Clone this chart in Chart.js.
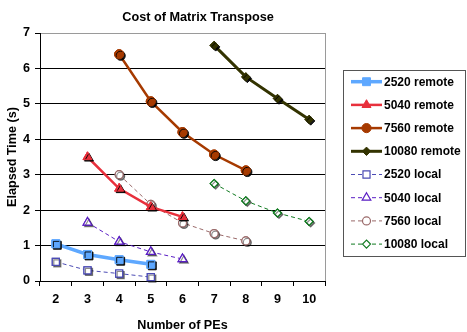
<!DOCTYPE html>
<html><head><meta charset="utf-8">
<script src="https://cdn.jsdelivr.net/npm/chart.js@4"></script>
<style>html,body{margin:0;padding:0;background:#fff}canvas{display:block}</style>
</head><body>
<canvas id="c" width="467" height="332"></canvas>
<script>
// Number of PEs on the x axis
const categories = ['2', '3', '4', '5', '6', '7', '8', '9', '10'];

// Elapsed time (s) per matrix size, remote and local transpose
const remote2520  = [1.05, 0.75, 0.60, 0.47, null, null, null, null, null];
const remote5040  = [null, 3.50, 2.61, 2.09, 1.81, null, null, null, null];
const remote7560  = [null, null, 6.40, 5.07, 4.20, 3.57, 3.12, null, null];
const remote10080 = [null, null, null, null, null, 6.65, 5.76, 5.15, 4.56];
const local2520   = [0.54, 0.30, 0.21, 0.11, null, null, null, null, null];
const local5040   = [null, 1.65, 1.11, 0.82, 0.62, null, null, null, null];
const local7560   = [null, null, 3.00, 2.16, 1.64, 1.34, 1.13, null, null];
const local10080  = [null, null, null, null, null, 2.75, 2.26, 1.92, 1.68];

const yTicks = [0, 1, 2, 3, 4, 5, 6, 7];

const FONT = "'Liberation Sans', Arial, sans-serif";

function remote(label, data, color, style, radius, width) {
  return {
    label, data,
    borderColor: color, backgroundColor: color,
    borderWidth: width,
    pointStyle: style, pointRadius: radius, pointHoverRadius: radius,
    pointBackgroundColor: color, pointBorderColor: color, pointBorderWidth: 1,
    shadowColor: 'rgba(0,0,0,0.9)',
    tension: 0, fill: false
  };
}
function local(label, data, color, style, radius) {
  return {
    label, data,
    borderColor: color, backgroundColor: '#fff',
    borderWidth: 1, borderDash: [4, 3],
    pointStyle: style, pointRadius: radius, pointHoverRadius: radius,
    pointBackgroundColor: '#fff', pointBorderColor: color, pointBorderWidth: 1.2,
    shadowColor: 'rgba(0,0,0,0.45)',
    tension: 0, fill: false
  };
}

const datasets = [
  remote('2520 remote',  remote2520,  '#5ea8ff', 'rect',     5.6, 3.5),
  remote('5040 remote',  remote5040,  '#e8303c', 'triangle', 5.2, 2.5),
  remote('7560 remote',  remote7560,  '#a63a00', 'circle',   4.6, 2.5),
  remote('10080 remote', remote10080, '#333300', 'rectRot',  4.2, 3),
  local('2520 local',  local2520,  '#4b4bb4', 'rect',     5),
  local('5040 local',  local5040,  '#5a1ec4', 'triangle', 5),
  local('7560 local',  local7560,  '#9a6a6a', 'circle',   4),
  local('10080 local', local10080, '#107a20', 'rectRot',  4)
];

// Markers get a small dark drop shadow, lines do not
const markerShadow = {
  id: 'markerShadow',
  afterDatasetDraw(chart, args) {
    const meta = args.meta, ds = chart.data.datasets[args.index];
    const ctx = chart.ctx;
    ctx.save();
    ctx.shadowColor = ds.shadowColor;
    ctx.shadowOffsetX = 1.5;
    ctx.shadowOffsetY = 1.5;
    ctx.shadowBlur = 0;
    meta.data.forEach(p => p.draw(ctx, chart.chartArea));
    ctx.restore();
  }
};

// Gray frame on the top and right of the plot area
const plotFrame = {
  id: 'plotFrame',
  beforeDatasetsDraw(chart) {
    const {ctx, chartArea: a} = chart;
    ctx.save();
    ctx.strokeStyle = '#9a9a9a';
    ctx.lineWidth = 1;
    ctx.beginPath();
    ctx.moveTo(Math.round(a.right) + 0.5, a.top);
    ctx.lineTo(Math.round(a.right) + 0.5, a.bottom);
    ctx.stroke();
    ctx.restore();
  }
};

// Title and boxed legend on the right
const titleAndLegend = {
  id: 'titleAndLegend',
  afterDraw(chart) {
    const ctx = chart.ctx;
    ctx.save();
    ctx.fillStyle = '#000';
    ctx.font = 'bold 12.7px ' + FONT;
    ctx.textAlign = 'center';
    ctx.textBaseline = 'middle';
    ctx.fillText('Cost of Matrix Transpose', 198, 17);

    ctx.strokeStyle = '#555';
    ctx.lineWidth = 1;
    ctx.strokeRect(343.5, 70.5, 122, 186);

    ctx.font = 'bold 12px ' + FONT;
    ctx.textAlign = 'left';
    chart.data.datasets.forEach((ds, i) => {
      const y = 81.7 + i * 23.2;
      ctx.strokeStyle = ds.borderColor;
      ctx.lineWidth = ds.borderWidth;
      ctx.setLineDash(ds.borderDash || []);
      ctx.beginPath();
      ctx.moveTo(351, y);
      ctx.lineTo(382, y);
      ctx.stroke();
      ctx.setLineDash([]);
      ctx.fillStyle = ds.pointBackgroundColor;
      ctx.strokeStyle = ds.pointBorderColor;
      ctx.lineWidth = ds.pointBorderWidth;
      Chart.helpers.drawPoint(ctx, {
        pointStyle: ds.pointStyle, rotation: 0,
        radius: ds.pointRadius, borderWidth: ds.pointBorderWidth
      }, 366.5, y);
      ctx.fillStyle = '#000';
      ctx.fillText(ds.label, 384, y + 0.5);
    });
    ctx.restore();
  }
};

new Chart(document.getElementById('c'), {
  type: 'line',
  data: { labels: categories, datasets },
  plugins: [plotFrame, markerShadow, titleAndLegend],
  options: {
    responsive: false,
    animation: false,
    events: [],
    layout: { padding: { left: 0, top: 33, right: 142, bottom: 0 } },
    plugins: { legend: { display: false }, title: { display: false }, tooltip: { enabled: false } },
    scales: {
      x: {
        type: 'category',
        offset: true,
        afterFit(scale) { scale.height = 51; },
        grid: { offset: true, drawOnChartArea: false, drawTicks: true, tickLength: 5, tickColor: '#000' },
        border: { color: '#000', width: 1 },
        ticks: { color: '#000', font: { family: FONT, size: 12.6, weight: 'bold' }, padding: 6, maxRotation: 0 },
        title: {
          display: true, text: 'Number of PEs', color: '#000',
          font: { family: FONT, size: 12.6, weight: 'bold', lineHeight: 1 },
          padding: { top: 0, bottom: 0 }
        }
      },
      y: {
        min: 0, max: 7,
        afterFit(scale) { scale.width = 40; },
        afterBuildTicks(scale) { scale.ticks = yTicks.map(v => ({ value: v })); },
        grid: {
          color: c => (c.tick && c.tick.value === 7) ? '#9a9a9a' : '#000',
          tickColor: '#000', tickLength: 5, lineWidth: 1
        },
        border: { color: '#000', width: 1 },
        ticks: { color: '#000', font: { family: FONT, size: 12.6, weight: 'bold' }, padding: 5 },
        title: {
          display: true, text: 'Elapsed Time (s)', color: '#000',
          font: { family: FONT, size: 12.6, weight: 'bold', lineHeight: 1.2 },
          padding: { top: 5, bottom: 0 }
        }
      }
    }
  }
});
</script>
</body></html>
